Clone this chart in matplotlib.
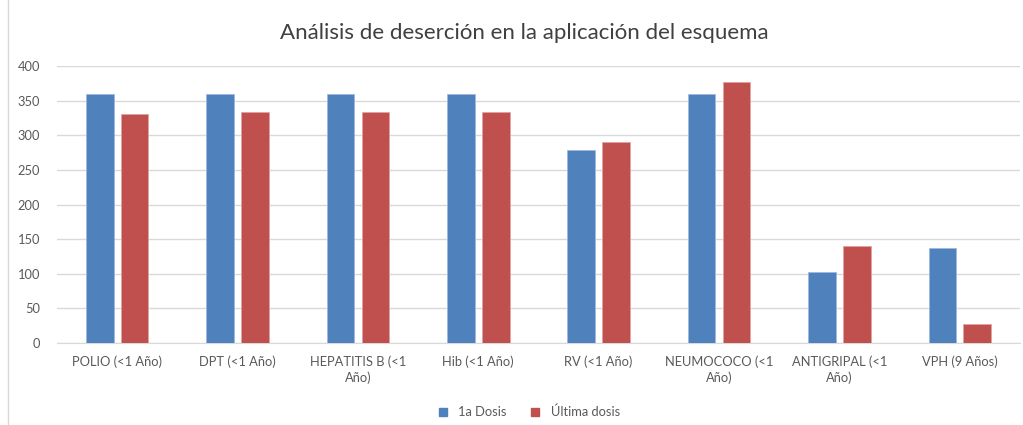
import numpy as np
import matplotlib
matplotlib.use("Agg")
import matplotlib.pyplot as plt
from matplotlib.lines import Line2D

plt.rcParams['font.family'] = ['Lato', 'DejaVu Sans']

categories = ['POLIO (<1 Año)', 'DPT (<1 Año)', 'HEPATITIS B (<1\nAño)', 'Hib (<1 Año)',
              'RV (<1 Año)', 'NEUMOCOCO (<1\nAño)', 'ANTIGRIPAL (<1\nAño)', 'VPH (9 Años)']
primera = [360, 360, 360, 360, 279, 360, 102, 137]
ultima = [331, 333, 333, 333, 290, 377, 140, 27]
yticks = [0, 50, 100, 150, 200, 250, 300, 350, 400]

blue = '#4F81BD'
red = '#C0504D'
grey = '#595959'

fig = plt.figure(figsize=(10.23, 4.25), dpi=100)
ax = fig.add_axes([57/1023, 1 - 343/425, 963/1023, 277/425])

x = np.arange(len(categories))
w = 0.23
ax.bar(x - 0.145, primera, w, color=blue, edgecolor='#9DB9DD', linewidth=0.6, label='1a Dosis', zorder=3)
ax.bar(x + 0.145, ultima, w, color=red, edgecolor='#E2A3A1', linewidth=0.6, label='Última dosis', zorder=3)

ax.set_xlim(-0.5, len(categories) - 0.5)
ax.set_ylim(0, 400)
ax.set_yticks(yticks)
ax.set_xticks(x)
ax.set_xticklabels(categories, fontsize=9.3, color=grey, linespacing=1.35)
ax.tick_params(axis='y', labelsize=9.3, colors=grey, length=0, pad=12)
ax.tick_params(axis='x', length=0, pad=9)
ax.grid(axis='y', color='#D9D9D9', linewidth=1, zorder=0)
for s in ['top', 'right', 'left']:
    ax.spines[s].set_visible(False)
ax.spines['bottom'].set_color('#D9D9D9')

fig.suptitle('Análisis de deserción en la aplicación del esquema', x=0.513, y=0.945,
             fontsize=16, color='#404040')

handles = [Line2D([], [], marker='s', linestyle='', markersize=6, color=blue),
           Line2D([], [], marker='s', linestyle='', markersize=6, color=red)]
fig.legend(handles, ['1a Dosis', 'Última dosis'], loc='center', bbox_to_anchor=(0.513, 0.03),
           ncol=2, frameon=False, fontsize=9.3, labelcolor=grey, handletextpad=0.2, columnspacing=1.2)

fig.add_artist(Line2D([8/1023, 8/1023], [0, 1], transform=fig.transFigure, color='#D9D9D9', linewidth=1))

fig.savefig('out.png', dpi=100)
